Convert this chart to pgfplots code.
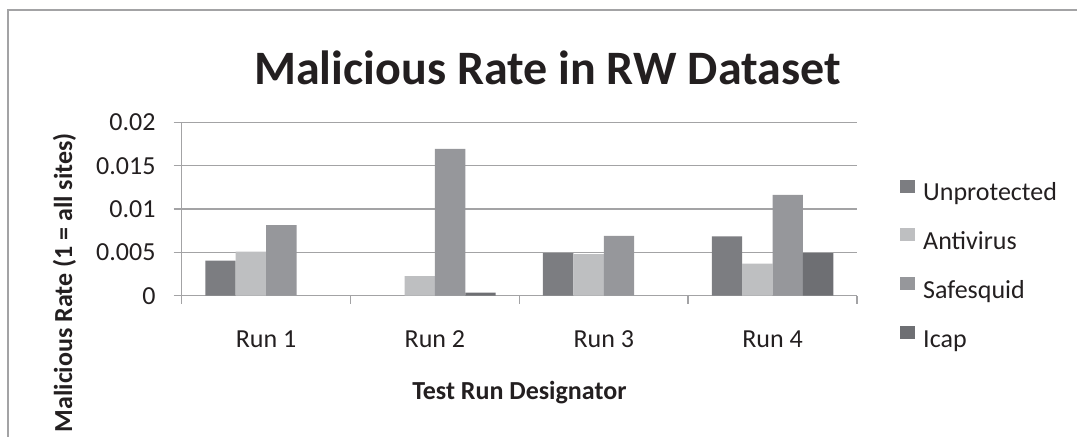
\documentclass[border=0pt]{standalone}
\usepackage{fontspec}
\setmainfont{Carlito}
\usepackage{pgfplots}
\pgfplotsset{compat=1.18}
\definecolor{cUn}{HTML}{7C7D81}
\definecolor{cAv}{HTML}{BEBFC1}
\definecolor{cSs}{HTML}{96979B}
\definecolor{cIc}{HTML}{6E6F73}
\definecolor{cGrid}{HTML}{A3A3A5}
\definecolor{cTxt}{HTML}{231F20}
\newcommand{\tfont}{\fontsize{26bp}{30bp}\selectfont}
\begin{document}
\begin{tikzpicture}[x=1bp,y=1bp]
\useasboundingbox (0,0) rectangle (1077,437);
\draw[cGrid, line width=1.5bp] (8,0) -- (8,427) -- (1077,427);
\node[anchor=base, inner sep=0pt, text=cTxt, font=\fontsize{48bp}{54bp}\selectfont\bfseries] at (547.5,352) {Malicious Rate in RW Dataset};
\begin{axis}[
  at={(181.7bp,141.3bp)}, anchor=south west,
  scale only axis, width=675.3bp, height=173.3bp,
  xmin=0.5, xmax=4.5, ymin=0, ymax=0.02,
  ybar, bar width=0.18,
  axis lines*=left,
  axis line style={cGrid, line width=1.5bp},
  ymajorgrids, grid style={cGrid, line width=1.5bp},
  scaled y ticks=false,
  ytick={0,0.005,0.01,0.015,0.02},
  yticklabels={0,0.005,0.01,0.015,0.02},
  xtick={1,2,3,4},
  xticklabels={Run 1,Run 2,Run 3,Run 4},
  minor xtick={0.5,1.5,2.5,3.5,4.5},
  major x tick style={draw=none},
  tick align=outside,
  major tick length=8bp, minor tick length=8bp,
  tick style={cGrid, line width=1.5bp},
  every tick label/.append style={font=\tfont, text=cTxt},
  yticklabel style={anchor=east, inner sep=0pt, xshift=-18bp},
  xticklabel style={anchor=base, inner sep=0pt, yshift=-44bp},
  xlabel={Test Run Designator},
  xlabel style={at={(axis description cs:0.5,0)}, anchor=base, inner sep=0pt, yshift=-104bp, font=\tfont\bfseries, text=cTxt},
  ylabel={Malicious Rate (1 = all sites)},
  ylabel style={at={(axis description cs:-0.1624,0.939)}, anchor=base east, inner sep=0pt, font=\tfont\bfseries, text=cTxt},
  legend style={at={(axis description cs:1.0637,0.671)}, anchor=north west, draw=none, fill=none, inner sep=0pt, row sep=21.6bp, column sep=8bp, font=\tfont, text=cTxt, nodes={inner sep=0pt, text height=19bp, text depth=6bp}},
  legend cell align=left,
  legend image code/.code={\fill[#1] (0bp,1.7bp) rectangle (15bp,14.7bp);},
]
\addplot[fill=cUn, draw=none, bar shift=-0.27] coordinates {(1,0.00404) (3,0.0049) (4,0.00686)};
\addplot[fill=cAv, draw=none, bar shift=-0.09] coordinates {(1,0.00508) (2,0.00227) (3,0.00481) (4,0.0037)};
\addplot[fill=cSs, draw=none, bar shift=0.09] coordinates {(1,0.00813) (2,0.01694) (3,0.0069) (4,0.01163)};
\addplot[fill=cIc, draw=none, bar shift=0.27] coordinates {(2,0.00035) (4,0.0049)};
\legend{Unprotected,Antivirus,Safesquid,Icap}
\end{axis}
\end{tikzpicture}
\end{document}
